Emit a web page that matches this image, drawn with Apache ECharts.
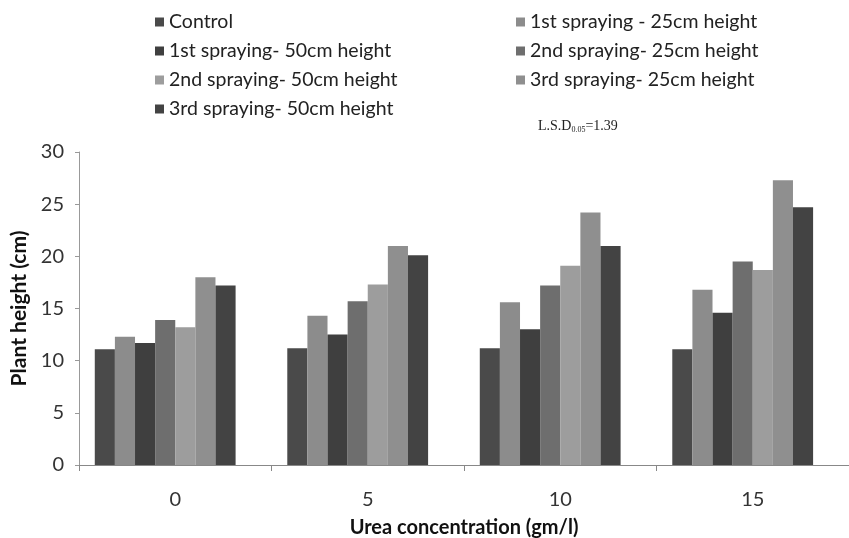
<!DOCTYPE html>
<html>
<head>
<meta charset="utf-8">
<script src="https://cdn.jsdelivr.net/npm/echarts@6/dist/echarts.min.js"></script>
<style>html,body{margin:0;padding:0;background:#fff}#c{width:849px;height:538px}</style>
</head>
<body>
<div id="c"></div>
<script>
const categories = ['0', '5', '10', '15'];
const seriesNames = [
  'Control',
  '1st spraying - 25cm height',
  '1st spraying- 50cm height',
  '2nd spraying- 25cm height',
  '2nd spraying- 50cm height',
  '3rd spraying- 25cm height',
  '3rd spraying- 50cm height'
];
const control = [11.1, 11.2, 11.2, 11.1];
const spray1_25 = [12.3, 14.3, 15.6, 16.8];
const spray1_50 = [11.7, 12.5, 13.0, 14.6];
const spray2_25 = [13.9, 15.7, 17.2, 19.5];
const spray2_50 = [13.2, 17.3, 19.1, 18.7];
const spray3_25 = [18.0, 21.0, 24.2, 27.3];
const spray3_50 = [17.2, 20.1, 21.0, 24.7];
const yTicks = [0, 5, 10, 15, 20, 25, 30];

const values = [control, spray1_25, spray1_50, spray2_25, spray2_50, spray3_25, spray3_50];
const colors = ['#4a4a4a', '#8c8c8c', '#3f3f3f', '#6e6e6e', '#9d9d9d', '#8f8f8f', '#434343'];

const font = 'Lato, "Open Sans", sans-serif';
const series = values.map((d, i) => ({
  name: seriesNames[i],
  type: 'bar',
  data: d,
  barGap: '0%',
  barCategoryGap: '16.4%',
  itemStyle: { color: colors[i] }
}));
// empty trailing slot (as in the original chart's layout)
series.push({ name: 'blank', type: 'bar', data: categories.map(() => null), barGap: '0%', barCategoryGap: '16.4%' });

const legendText = { fontFamily: font, fontSize: 19.5, color: '#222', lineHeight: 22 };
const chart = echarts.init(document.getElementById('c'));
chart.setOption({
  animation: false,
  backgroundColor: '#fff',
  legend: [
    {
      data: [seriesNames[0], seriesNames[2], seriesNames[4], seriesNames[6]],
      orient: 'vertical', left: 150, top: 6, itemGap: 7,
      itemWidth: 9, itemHeight: 9, icon: 'rect', textStyle: legendText
    },
    {
      data: [seriesNames[1], seriesNames[3], seriesNames[5]],
      orient: 'vertical', left: 511, top: 6, itemGap: 7,
      itemWidth: 9, itemHeight: 9, icon: 'rect', textStyle: legendText
    }
  ],
  graphic: [{
    type: 'text', left: 538, top: 119,
    style: {
      text: '{a|L.S.D}{s|0.05}{a|=1.39}',
      rich: {
        a: { fontFamily: '"Liberation Serif", serif', fontSize: 14, fill: '#222' },
        s: { fontFamily: '"Liberation Serif", serif', fontSize: 8, fill: '#222', padding: [7, 0, 0, 0] }
      }
    }
  }],
  grid: { left: 79, right: 0, top: 152, bottom: 73, containLabel: false, outerBoundsMode: 'none' },
  xAxis: {
    type: 'category',
    data: categories,
    name: 'Urea concentration (gm/l)',
    nameLocation: 'middle',
    nameGap: 53,
    nameTextStyle: { fontFamily: font, fontSize: 20, fontWeight: 'bold', color: '#111' },
    axisLine: { lineStyle: { color: '#888' } },
    axisTick: { show: true, alignWithLabel: false, length: 6, lineStyle: { color: '#888' } },
    axisLabel: { fontFamily: font, fontSize: 20, color: '#333', margin: 25 }
  },
  yAxis: {
    type: 'value',
    min: 0, max: 30, interval: 5,
    name: 'Plant height (cm)',
    nameLocation: 'middle',
    nameGap: 48,
    nameTextStyle: { fontFamily: font, fontSize: 21, fontWeight: 'bold', color: '#111' },
    axisLine: { show: true, lineStyle: { color: '#999' } },
    axisTick: { show: true, length: 4, lineStyle: { color: '#999' } },
    splitLine: { show: false },
    axisLabel: { fontFamily: font, fontSize: 20, color: '#333', margin: 15,
      formatter: v => yTicks.includes(v) ? String(v) : '' }
  },
  series: series
});
</script>
</body>
</html>
